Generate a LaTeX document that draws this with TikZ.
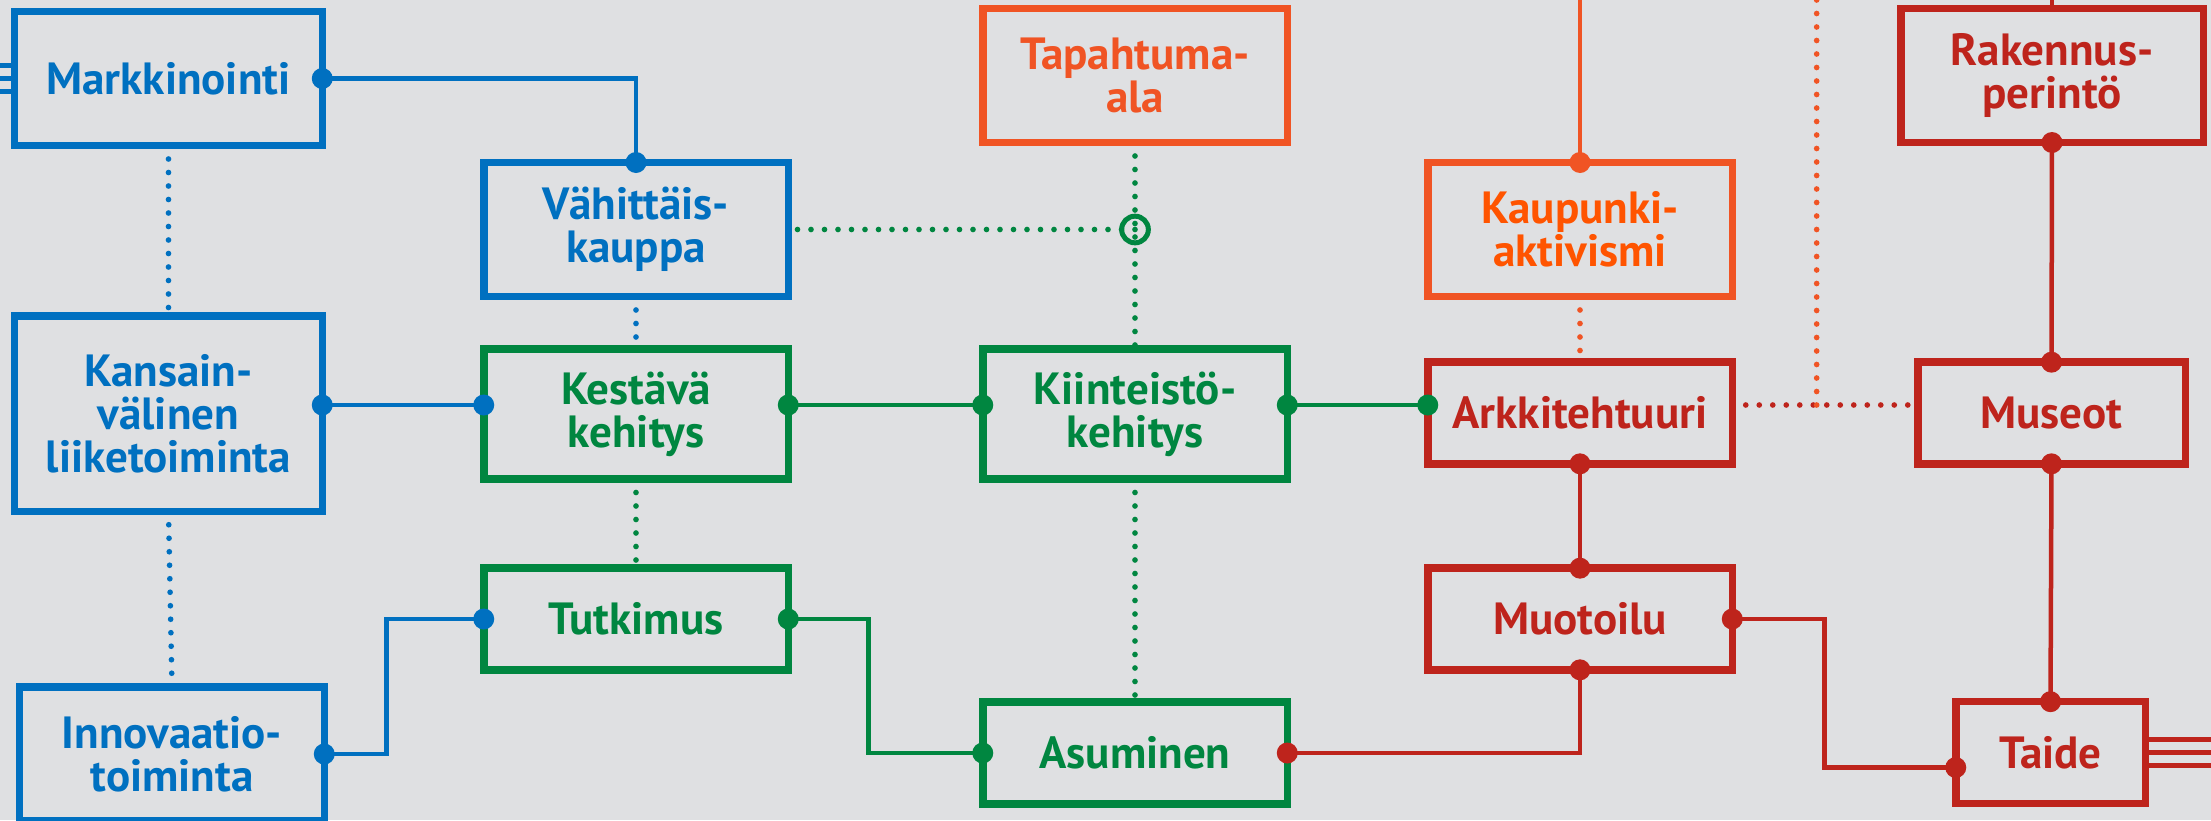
\documentclass[tikz,border=0pt]{standalone}
\usepackage{fontspec}
\newfontfamily\boxfont{PT Sans}
\usetikzlibrary{positioning, calc, backgrounds}
\definecolor{qBg}{RGB}{223,224,226}
\definecolor{qBlue}{RGB}{0,112,192}
\definecolor{qGreen}{RGB}{0,134,64}
\definecolor{qOrange}{RGB}{240,84,36}
\definecolor{qOrangeText}{RGB}{255,84,0}
\definecolor{qRed}{RGB}{190,36,28}

\begin{document}
\begin{tikzpicture}[
    x=0.3mm, y=-0.3mm, % 1 單位 = 1 像素
    % 方框樣式 (顏色由參數給)
    box/.style={
        draw=#1,
        text=#1,
        line width=2.25mm,
        outer sep=0pt,
        inner sep=0pt,
        align=center,
        minimum width=91.35mm,
        font=\boxfont\bfseries\fontsize{38.5}{36.7}\selectfont
    },
    tall/.style={minimum height=40.2mm},
    mid/.style={minimum height=39mm},
    low/.style={minimum height=30.5mm},
    % 實線連接
    link/.style={draw=#1, line width=1.35mm},
    % 點線連接
    dots/.style={
        draw=#1,
        line width=1.7mm,
        line cap=round,
        dash pattern=on 0pt off 4.05mm
    },
    % 端點圓點
    dot/.style={circle, fill=#1, inner sep=0pt, minimum size=6.3mm}
]

    % --- 0. 背景 ---
    \useasboundingbox (0,0) rectangle (2211,820);
    \begin{scope}[on background layer]
        \fill[qBg] (0,0) rectangle (2211,820);
    \end{scope}
    \coordinate (top) at (0,-20);
    \coordinate (row) at (0,405);

    % --- 1. 藍色 ---
    \node[box=qBlue, tall, minimum width=92.25mm] (mark) at (168.5,78.5) {Markkinointi};
    \node[box=qBlue, tall] (vahi) at (636,229.5) {Vähittäis-\\kauppa};
    \node[box=qBlue, minimum width=92.25mm, minimum height=58.65mm] (kans) at (168.5,413.5) {Kansain-\\välinen\\liiketoiminta};
    \node[box=qBlue, tall] (inno) at (172,754) {Innovaatio-\\toiminta};

    % --- 2. 綠色 ---
    \node[box=qGreen, mid] (kest) at (636,414) {Kestävä\\kehitys};
    \node[box=qGreen, mid] (kiin) at (1135,414) {Kiinteistö-\\kehitys};
    \node[box=qGreen, low] (tutk) at (636,619) {Tutkimus};
    \node[box=qGreen, low] (asum) at (1135,753) {Asuminen};

    % --- 3. 橘色 ---
    \node[box=qOrange, tall] (tapa) at (1135,75.5) {Tapahtuma-\\ala};
    \node[box=qOrange, tall, text=qOrangeText] (kaup) at (1580,229.5) {Kaupunki-\\aktivismi};

    % --- 4. 紅色 ---
    \node[box=qRed, tall, minimum width=90.75mm] (rake) at (2052,75.5) {Rakennus-\\perintö};
    \node[box=qRed, low] (arkk) at (1580,413) {Arkkitehtuuri};
    \node[box=qRed, low, minimum width=80.25mm] (muse) at (2051.5,413) {Museot};
    \node[box=qRed, low] (muot) at (1580,619) {Muotoilu};
    \node[box=qRed, low, minimum width=56.85mm] (taid) at (2050.5,752.5) {Taide};

    \coordinate (hub) at (tapa.south |- vahi.east);
    \coordinate (join) at ($(arkk.east |- row)!0.455!(muse.west |- row)$);
    \coordinate (taidIn) at ([yshift=-4.5mm]taid.west);

    % --- 5. 連線 (放在方框下層) ---
    \begin{scope}[on background layer]
        % 實線
        \draw[link=qBlue] (mark.east) -| (vahi.north);
        \draw[link=qBlue] (kans.east |- row) -- (kest.west |- row);
        \draw[link=qBlue] (inno.east) -- ++(62,0) |- (tutk.west);
        \draw[link=qBlue] (mark.west) ++(0,-13) -- ++(-30,0);
        \draw[link=qBlue] (mark.west) ++(0,0) -- ++(-30,0);
        \draw[link=qBlue] (mark.west) ++(0,13) -- ++(-30,0);
        \draw[link=qGreen] (kest.east |- row) -- (kiin.west |- row);
        \draw[link=qGreen] (kiin.east |- row) -- (arkk.west |- row);
        \draw[link=qGreen] (tutk.east) -- ++(80,0) |- (asum.west);
        \draw[link=qOrange] (kaup.north) -- (kaup.north |- top);
        \draw[link=qRed] (rake.north) -- (rake.north |- top);
        \draw[link=qRed] (asum.east) -| (muot.south);
        \draw[link=qRed] (arkk.south) -- (muot.north);
        \draw[link=qRed] (muot.east) -- ++(92,0) |- (taidIn);
        \draw[link=qRed] (rake.south) -- (muse.north);
        \draw[link=qRed] (muse.south) -- (taid.north);
        \draw[link=qRed] ([yshift=-3.9mm]taid.east) -- ++(80,0);
        \draw[link=qRed] (taid.east) -- ++(80,0);
        \draw[link=qRed] ([yshift=3.9mm]taid.east) -- ++(80,0);
        % 點線
        \draw[dots=qBlue] (mark.south) -- (kans.north);
        \draw[dots=qBlue] (kans.south) -- (inno.north);
        \draw[dots=qBlue] (vahi.south) -- (kest.north);
        \draw[dots=qGreen] (kest.south) -- (tutk.north);
        \draw[dots=qGreen] (tapa.south) -- (kiin.north);
        \draw[dots=qGreen] (hub) -- (vahi.east);
        \draw[dots=qGreen] (kiin.south) -- (asum.north);
        \draw[dots=qOrange] (kaup.south) -- (arkk.north);
        \draw[dots=qRed] (arkk.east |- row) -- (muse.west |- row);
        \draw[dots=qOrange] (join) -- (join |- top);
    \end{scope}

    % --- 6. 端點 ---
    \foreach \a in {mark.east, vahi.north, inno.east, tutk.west}
        \node[dot=qBlue] at (\a) {};
    \node[dot=qBlue] at (kans.east |- row) {};
    \node[dot=qBlue] at (kest.west |- row) {};
    \foreach \a in {kest.east, kiin.west, kiin.east, arkk.west}
        \node[dot=qGreen] at (\a |- row) {};
    \foreach \a in {tutk.east, asum.west}
        \node[dot=qGreen] at (\a) {};
    \node[dot=qOrange] at (kaup.north) {};
    \foreach \a in {asum.east, muot.south, arkk.south, muot.north, muot.east, taidIn, rake.south, muse.north, muse.south, taid.north}
        \node[dot=qRed] at (\a) {};
    \node[circle, draw=qGreen, line width=1.5mm, minimum size=8mm, inner sep=0pt] (ring) at (hub) {};

\end{tikzpicture}
\end{document}
